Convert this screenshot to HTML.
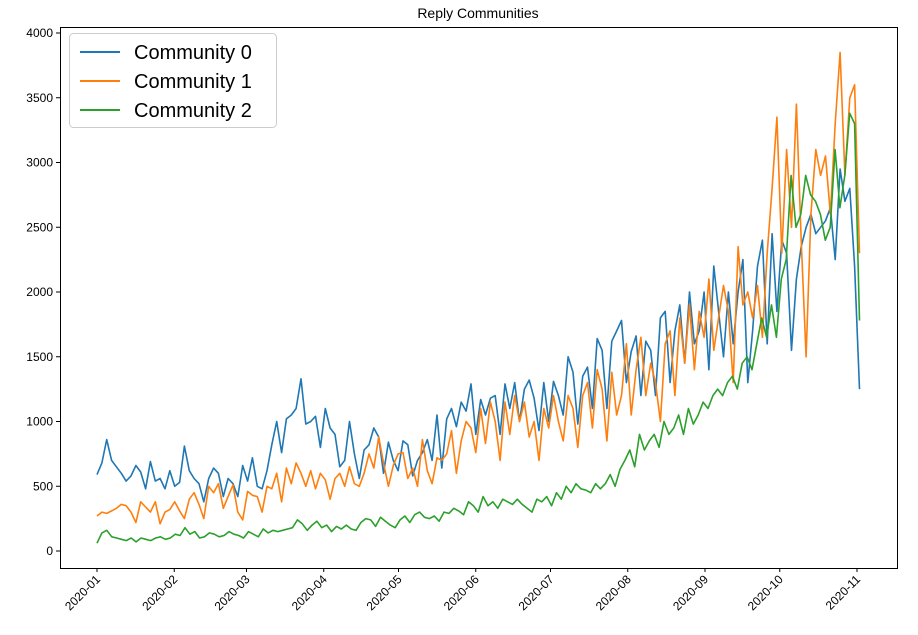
<!DOCTYPE html>
<html><head><meta charset="utf-8"><style>
body{margin:0;background:#fff;font-family:"Liberation Sans",sans-serif;}
svg text{font-family:"Liberation Sans",sans-serif;}
</style></head><body>
<svg id="chart" width="918" height="630" xmlns="http://www.w3.org/2000/svg">
<text x="478" y="18" text-anchor="middle" font-size="14">Reply Communities</text>
<g id="grid"></g>
<g id="series"></g>
<rect x="60.5" y="27.5" width="837" height="541" fill="none" stroke="#000" stroke-width="1"/>
<g>
<rect x="69.5" y="33.5" width="207" height="94" rx="4" fill="#fff" fill-opacity="0.85" stroke="#ccc"/>
<g><line x1="80" y1="52" x2="120" y2="52" stroke="#1f77b4" stroke-width="2"/><text x="134" y="59" font-size="20">Community 0</text></g>
<g><line x1="80" y1="81" x2="120" y2="81" stroke="#ff7f0e" stroke-width="2"/><text x="134" y="88" font-size="20">Community 1</text></g>
<g><line x1="80" y1="110" x2="120" y2="110" stroke="#2ca02c" stroke-width="2"/><text x="134" y="117" font-size="20">Community 2</text></g>
</g>
</svg>
<script>
const yTicks=[0,500,1000,1500,2000,2500,3000,3500,4000];
const xTickLabels=["2020-01","2020-02","2020-03","2020-04","2020-05","2020-06","2020-07","2020-08","2020-09","2020-10","2020-11"];
const xTickDays=[0,31,60,91,121,152,182,213,244,274,305];
const lastDay=306;
const community0=[590,680,860,700,650,600,540,580,660,610,480,690,540,560,480,620,
500,530,810,620,560,520,380,560,640,600,420,560,520,420,
660,540,720,500,480,620,820,1000,760,1020,1050,1100,1330,980,1000,1040,
800,1100,950,900,650,700,1000,750,560,780,820,950,880,600,840,
700,620,850,820,580,700,760,860,700,1050,640,1020,1100,960,1150,1080,
1290,900,1170,1050,1180,1200,900,1290,1100,1300,1000,1250,1320,1180,930,
1300,1000,1310,1200,1050,1500,1380,980,1350,1420,1100,1640,1550,1100,1620,1700,
1780,1300,1540,1660,1200,1620,1550,1200,1800,1850,1300,1700,1900,1450,2000,1600,
1700,2000,1400,2200,1850,1500,2000,1600,2000,2250,1300,1700,2200,2400,1600,
2450,1850,2400,2300,1550,2100,2350,2500,2600,2450,2500,2550,2650,2250,2950,2700,
2800,2200,1250];
const community1=[270,300,290,310,330,360,350,300,220,380,340,300,380,210,300,320,
380,310,250,400,450,360,250,500,450,520,330,420,510,300,
240,460,430,420,300,500,480,600,380,640,520,680,600,500,620,480,
600,550,400,560,600,500,650,520,500,600,750,640,880,680,500,
660,750,760,560,640,500,860,620,520,720,700,750,930,600,850,1000,
950,760,1100,830,1150,1000,700,1150,900,1200,1000,1150,880,1000,700,
1100,950,1200,1000,850,1200,1100,800,1200,1300,950,1400,1250,850,1380,1050,
1200,1600,1050,1400,1650,1200,1450,1300,1000,1600,1700,1200,1800,1450,1900,1400,
1850,1650,2100,1550,1800,2050,1850,1300,2350,1900,2000,1800,2050,1650,2300,
2800,3350,2300,3100,2500,3450,2400,1500,2600,3100,2900,3050,2600,3300,3850,2900,
3500,3600,2300];
const community2=[60,140,160,110,100,90,80,100,70,100,90,80,100,110,90,100,
130,120,180,130,150,100,110,140,130,110,120,150,130,120,
100,150,130,110,170,140,160,150,160,170,180,240,210,160,200,
230,180,200,150,190,170,200,170,160,220,250,240,190,260,230,
200,180,240,270,220,280,300,260,250,270,230,300,290,330,310,280,
380,350,300,420,350,380,330,400,380,360,400,360,330,300,400,
380,420,350,450,400,500,450,520,480,470,450,520,480,520,590,500,
630,700,780,650,900,780,850,900,800,1000,900,950,1050,900,1100,980,
1050,1150,1100,1200,1250,1200,1300,1350,1250,1450,1500,1400,1600,1800,1650,
1900,1650,2100,2250,2900,2500,2600,2900,2750,2700,2600,2400,2500,3100,2650,2900,
3380,3300,1780];
const seriesData=[community0,community1,community2];
const seriesColors=["#1f77b4","#ff7f0e","#2ca02c"];
const seriesNames=["community-0-line","community-1-line","community-2-line"];

const NS="http://www.w3.org/2000/svg";
function xScale(d){return 97+d*(760/305);}
function yScale(v){return 551-v*(518/4000);}
const grid=document.getElementById('grid');
yTicks.forEach(t=>{
  const y=yScale(t);
  const l=document.createElementNS(NS,'line');
  l.setAttribute('x1',56);l.setAttribute('x2',60);l.setAttribute('y1',y);l.setAttribute('y2',y);l.setAttribute('stroke','#000');
  
  
  grid.appendChild(l);
  const tx=document.createElementNS(NS,'text');
  tx.setAttribute('x',53);tx.setAttribute('y',y+4);tx.setAttribute('text-anchor','end');tx.setAttribute('font-size','12');
  tx.textContent=t;
  
  
  grid.appendChild(tx);
});
xTickDays.forEach((d,i)=>{
  const x=xScale(d);
  const l=document.createElementNS(NS,'line');
  l.setAttribute('x1',x);l.setAttribute('x2',x);l.setAttribute('y1',568);l.setAttribute('y2',572);l.setAttribute('stroke','#000');
  
  
  grid.appendChild(l);
  const tx=document.createElementNS(NS,'text');
  tx.setAttribute('transform','translate('+(x+4)+',580) rotate(-45)');
  tx.setAttribute('text-anchor','end');tx.setAttribute('font-size','12');
  tx.textContent=xTickLabels[i];
  
  
  grid.appendChild(tx);
});
const sg=document.getElementById('series');
seriesData.forEach((arr,si)=>{
  const n=arr.length;
  const pts=arr.map((v,i)=>xScale(i*lastDay/(n-1)).toFixed(1)+','+yScale(v).toFixed(1)).join(' ');
  const p=document.createElementNS(NS,'polyline');
  p.setAttribute('points',pts);p.setAttribute('fill','none');p.setAttribute('stroke',seriesColors[si]);p.setAttribute('stroke-width','1.6');p.setAttribute('stroke-linejoin','round');
  
  
  sg.appendChild(p);
});
</script>
</body></html>
